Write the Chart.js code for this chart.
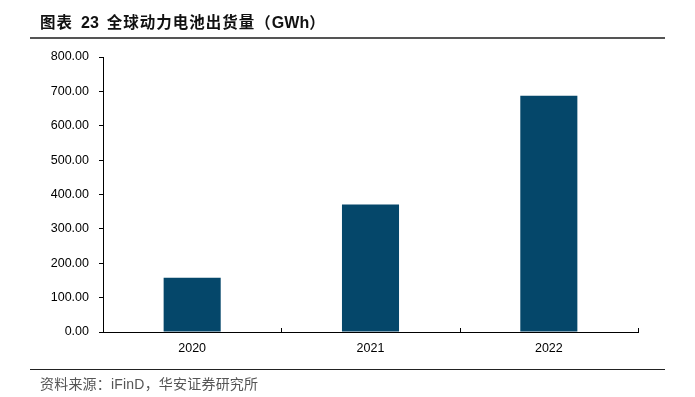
<!DOCTYPE html>
<html>
<head>
<meta charset="utf-8">
<script src="https://cdn.jsdelivr.net/npm/chart.js@4/dist/chart.umd.min.js"></script>
<style>
  html, body { margin: 0; padding: 0; background: #fff; }
  #wrap { position: relative; width: 695px; height: 397px; overflow: hidden; }
  #title { position: absolute; left: 40px; top: 11px; font-family: "Noto Sans CJK SC", "Liberation Sans", sans-serif; font-weight: bold; font-size: 15.5px; color: #111; white-space: nowrap; line-height: 20px; letter-spacing: 1px; }
  #title .num { font-family: "Liberation Sans", Arial, sans-serif; font-size: 16px; letter-spacing: 0; }
  #title .n23 { margin-left: 8px; margin-right: 8px; }
  #topline { position: absolute; left: 30px; top: 37px; width: 635px; height: 1.5px; background: #555; }
  #botline { position: absolute; left: 30px; top: 369px; width: 635px; height: 1px; background: #222; }
  #source { position: absolute; left: 40px; top: 375px; font-family: "Noto Sans CJK SC", sans-serif; font-size: 14px; color: #555; white-space: nowrap; line-height: 17px; letter-spacing: 0.2px; }
  #source .lat { font-family: "Liberation Sans", Arial, sans-serif; }
  canvas { position: absolute; left: 0; top: 0; }
</style>
</head>
<body>
<div id="wrap">
  <canvas id="c" width="695" height="397"></canvas>
  <div id="title">图表<span class="num n23">23</span>全球动力电池出货量（<span class="num">GWh</span>）</div>
  <div id="topline"></div>
  <div id="botline"></div>
  <div id="source">资料来源：<span class="lat">iFinD</span>，华安证券研究所</div>
</div>
<script>
const categories = ["2020", "2021", "2022"];
const shipments = [158, 371, 687];
const yTicks = [0, 100, 200, 300, 400, 500, 600, 700, 800];

const xInwardTicks = {
  id: 'xInwardTicks',
  afterDraw(chart) {
    const xs = chart.scales.x;
    const ctx = chart.ctx;
    const n = categories.length;
    ctx.save();
    ctx.strokeStyle = '#000';
    ctx.lineWidth = 1;
    for (let i = 0; i <= n; i++) {
      const px = Math.round(xs.getPixelForValue(i - 0.5)) + 0.5;
      ctx.beginPath();
      ctx.moveTo(px, xs.top);
      ctx.lineTo(px, xs.top - 4);
      ctx.stroke();
    }
    ctx.restore();
  }
};

new Chart(document.getElementById('c'), {
  type: 'bar',
  data: {
    labels: categories,
    datasets: [{
      data: shipments,
      backgroundColor: '#05476a',
      borderWidth: 0,
      barPercentage: 0.32,
      categoryPercentage: 1.0
    }]
  },
  options: {
    responsive: false,
    animation: false,
    devicePixelRatio: 1,
    layout: { padding: { left: 51, right: 57, top: 57, bottom: 40 } },
    plugins: { legend: { display: false }, tooltip: { enabled: false } },
    scales: {
      x: {
        offset: true,
        grid: { display: false, drawTicks: false },
        border: { display: true, color: '#000', width: 1 },
        ticks: { color: '#000', padding: 9, font: { family: 'Liberation Sans', size: 12.5 } },
        afterFit(s) { s.height = 25; }
      },
      y: {
        min: 0, max: 800,
        afterBuildTicks(s) { s.ticks = yTicks.map(v => ({ value: v })); },
        grid: { drawOnChartArea: false, drawTicks: true, tickLength: 4, color: '#000' },
        border: { display: true, color: '#000', width: 1 },
        ticks: { color: '#000', padding: 10, font: { family: 'Liberation Sans', size: 12.5 }, callback: v => Number(v).toFixed(2) },
        afterFit(s) { s.width = 52; }
      }
    }
  },
  plugins: [xInwardTicks]
});
</script>
</body>
</html>
